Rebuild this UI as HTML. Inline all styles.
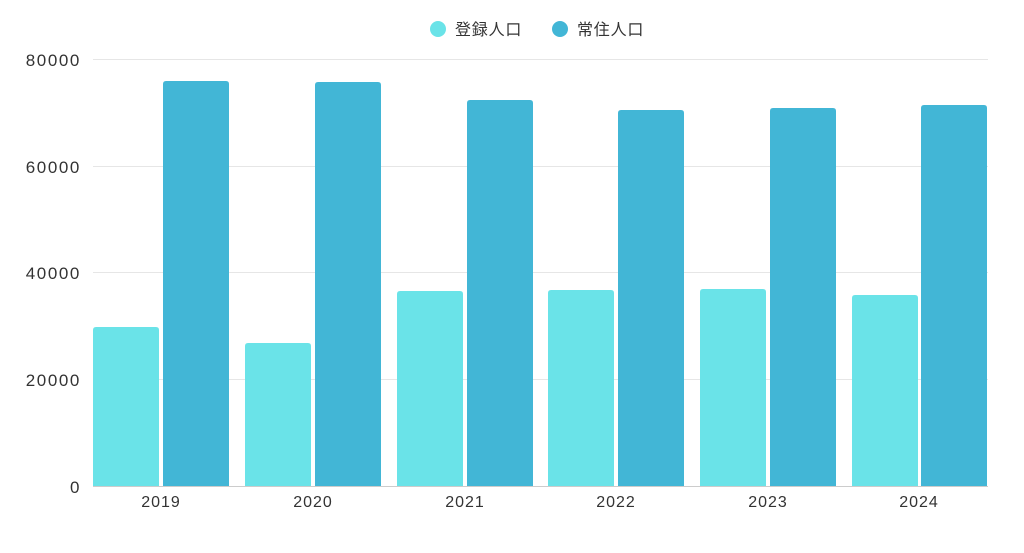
<!DOCTYPE html>
<html><head><meta charset="utf-8"><style>
body{margin:0;background:#fff;width:1024px;height:548px;overflow:hidden}
text{font-family:"Liberation Sans","Noto Sans CJK JP",sans-serif;fill:#333}
.n{letter-spacing:1.6px}
</style></head><body>
<svg width="1024" height="548" viewBox="0 0 1024 548">
<g stroke="#e6e6e6" stroke-width="1">
<line x1="93" x2="988" y1="59.5" y2="59.5"/>
<line x1="93" x2="988" y1="166.5" y2="166.5"/>
<line x1="93" x2="988" y1="272.5" y2="272.5"/>
<line x1="93" x2="988" y1="379.5" y2="379.5"/>
</g>
<g font-size="17" text-anchor="end" class="n">
<text x="81" y="66">80000</text>
<text x="81" y="173">60000</text>
<text x="81" y="279">40000</text>
<text x="81" y="386">20000</text>
<text x="81" y="493">0</text>
</g>
<g fill="#6ae3e8">
<path d="M93 486V330q0-3 3-3h60q3 0 3 3V486z"/>
<path d="M245 486V346q0-3 3-3h60q3 0 3 3V486z"/>
<path d="M397 486V294q0-3 3-3h60q3 0 3 3V486z"/>
<path d="M548 486V293q0-3 3-3h60q3 0 3 3V486z"/>
<path d="M700 486V292q0-3 3-3h60q3 0 3 3V486z"/>
<path d="M852 486V298q0-3 3-3h60q3 0 3 3V486z"/>
</g>
<g fill="#42b6d6">
<path d="M163 486V84q0-3 3-3h60q3 0 3 3V486z"/>
<path d="M315 486V85q0-3 3-3h60q3 0 3 3V486z"/>
<path d="M467 486V103q0-3 3-3h60q3 0 3 3V486z"/>
<path d="M618 486V113q0-3 3-3h60q3 0 3 3V486z"/>
<path d="M770 486V111q0-3 3-3h60q3 0 3 3V486z"/>
<path d="M921 486V108q0-3 3-3h60q3 0 3 3V486z"/>
</g>
<line x1="93" x2="988" y1="486.5" y2="486.5" stroke="#ccc"/>
<g font-size="16" text-anchor="middle" style="letter-spacing:1px">
<text x="161" y="507">2019</text>
<text x="313" y="507">2020</text>
<text x="465" y="507">2021</text>
<text x="616" y="507">2022</text>
<text x="768" y="507">2023</text>
<text x="919" y="507">2024</text>
</g>
<circle cx="438" cy="29" r="8" fill="#6ae3e8"/>
<text x="455" y="35" font-size="16" style="letter-spacing:0.8px">登録人口</text>
<circle cx="560" cy="29" r="8" fill="#42b6d6"/>
<text x="577" y="35" font-size="16" style="letter-spacing:0.8px">常住人口</text>
</svg>
</body></html>
